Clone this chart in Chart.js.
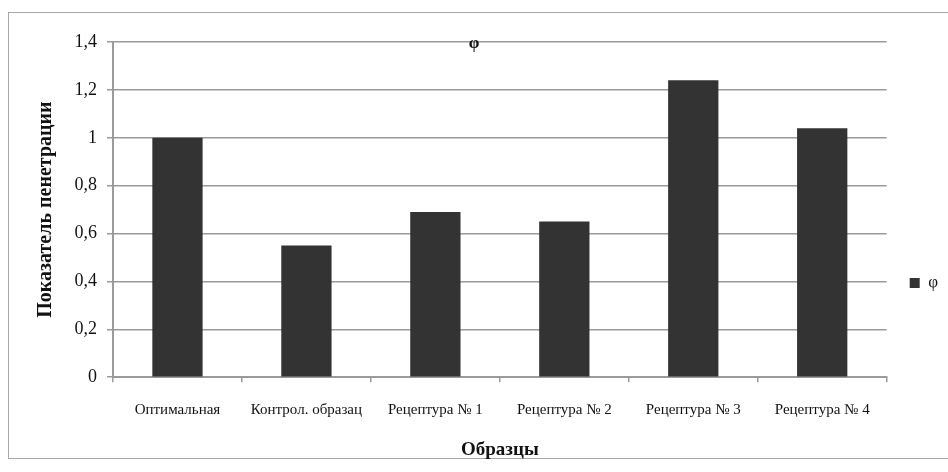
<!DOCTYPE html>
<html>
<head>
<meta charset="utf-8">
<script src="https://cdn.jsdelivr.net/npm/chart.js@4/dist/chart.umd.min.js"></script>
<style>
  html, body { margin: 0; padding: 0; background: #fff; }
  #wrap { position: relative; width: 948px; height: 472px; overflow: hidden; }
  #frame { position: absolute; left: 8px; top: 12px; width: 960px; height: 447px; border: 1px solid #a8a8a8; box-sizing: border-box; }
  #c { position: absolute; left: 0; top: 0; }
</style>
</head>
<body>
<div id="wrap">
  <div id="frame"></div>
  <canvas id="c" width="948" height="472"></canvas>
</div>
<script>
const categories = ['Оптимальная', 'Контрол. образац', 'Рецептура № 1', 'Рецептура № 2', 'Рецептура № 3', 'Рецептура № 4'];
const seriesName = 'φ';
const values = [1.0, 0.55, 0.69, 0.65, 1.24, 1.04];
const yTickLabels = ['0', '0,2', '0,4', '0,6', '0,8', '1', '1,2', '1,4'];
const yTitle = 'Показатель пенетрации';
const xTitle = 'Образцы';
const chartTitle = 'φ';

const SERIF = "'Liberation Serif', 'DejaVu Serif', serif";
Chart.defaults.font.family = SERIF;
Chart.defaults.color = '#111';

new Chart(document.getElementById('c'), {
  type: 'bar',
  data: {
    labels: categories,
    datasets: [{
      label: seriesName,
      data: values,
      backgroundColor: '#333333',
      borderWidth: 0,
      barPercentage: 0.39,
      categoryPercentage: 1.0
    }]
  },
  options: {
    responsive: false,
    animation: false,
    layout: { padding: { top: 35, right: 0, bottom: 6, left: 0 } },
    plugins: {
      title: {
        display: true,
        text: chartTitle,
        color: '#111',
        font: { size: 17, family: SERIF, weight: 'bold' },
        padding: { top: -1.2, bottom: -12.2 }
      },
      legend: {
        display: true,
        position: 'right',
        align: 'center',
        title: { display: true, text: ' ', font: { size: 10 }, padding: { top: 53, bottom: 0 } },
        labels: {
          boxWidth: 10,
          boxHeight: 10,
          color: '#111',
          font: { size: 17, family: SERIF },
          padding: 23
        }
      },
      tooltip: { enabled: false }
    },
    scales: {
      x: {
        offset: true,
        grid: {
          display: true,
          offset: true,
          drawOnChartArea: false,
          drawTicks: true,
          tickLength: 5,
          color: '#9a9a9a',
          lineWidth: 1.5
        },
        border: { display: true, color: '#9a9a9a', width: 2 },
        ticks: {
          color: '#111',
          font: { size: 15, family: SERIF },
          padding: 19,
          maxRotation: 0,
          autoSkip: false
        },
        title: {
          display: true,
          text: xTitle,
          color: '#111',
          font: { size: 19, family: SERIF, weight: 'bold' },
          padding: { top: 0, bottom: 5 }
        }
      },
      y: {
        min: 0,
        max: 1.4,
        ticks: {
          stepSize: 0.2,
          color: '#111',
          font: { size: 18, family: SERIF },
          padding: 10,
          callback: function(value, index) { return yTickLabels[index]; }
        },
        grid: {
          color: '#9a9a9a',
          lineWidth: 1.5,
          drawTicks: true,
          tickLength: 6
        },
        border: { display: true, color: '#9a9a9a', width: 2 },
        title: {
          display: true,
          text: yTitle,
          color: '#111',
          font: { size: 20, family: SERIF, weight: 'bold' },
          padding: { top: 34, bottom: 0 }
        },
        afterFit: function(scale) { scale.width = 113; }
      }
    }
  }
});
</script>
</body>
</html>
